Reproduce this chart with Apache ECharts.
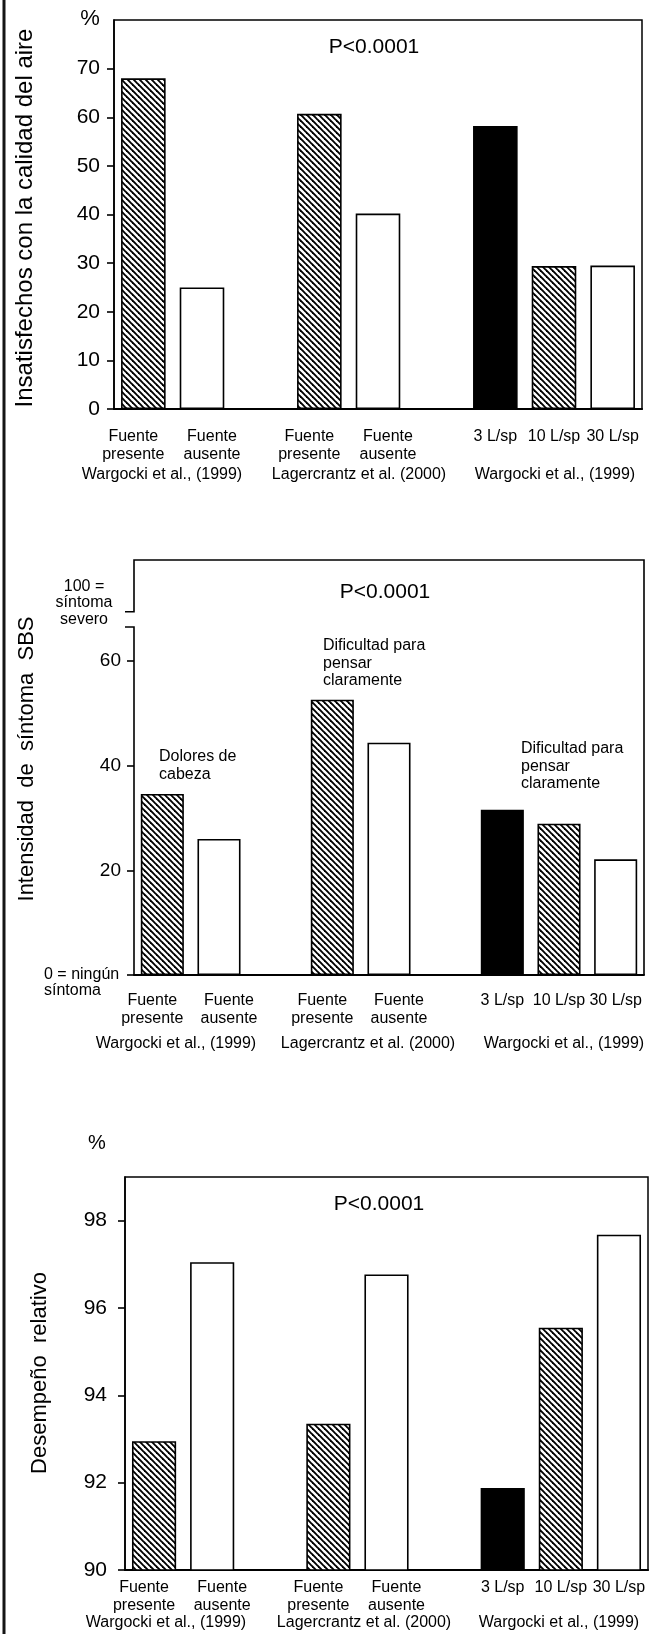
<!DOCTYPE html>
<html>
<head>
<meta charset="utf-8">
<script src="https://cdn.jsdelivr.net/npm/echarts@6/dist/echarts.min.js"></script>
<style>
html, body { margin: 0; padding: 0; background: #fff; }
#main { width: 665px; height: 1634px; }
</style>
</head>
<body>
<div id="main"></div>
<script>
// nine slots per panel, the empty ones keep the three studies apart
var slots = ['s0', 's1', 's2', 's3', 's4', 's5', 's6', 's7', 's8'];
var slotLabels = ['Fuente\npresente', 'Fuente\nausente', '', 'Fuente\npresente', 'Fuente\nausente', '', '3 L/sp', '10 L/sp', '30 L/sp'];
var fills = ['hatch', 'open', '', 'hatch', 'open', '', 'solid', 'hatch', 'open'];
var studies = ['Wargocki et al., (1999)', 'Lagercrantz et al. (2000)', 'Wargocki et al., (1999)'];

var airValues = [68, 25, '-', 60.7, 40.2, '-', 58.2, 29.4, 29.5];
var symptomValues = [34.6, 26, '-', 52.6, 44.4, '-', 31.6, 28.9, 22.1];
var performanceValues = [92.95, 97.05, '-', 93.35, 96.77, '-', 91.88, 95.55, 97.68];

var airTicks = [0, 10, 20, 30, 40, 50, 60, 70];
var symptomTicks = [20, 40, 60];
var performanceTicks = [90, 92, 94, 96, 98];
var symptomNotes = ['Dolores de\ncabeza', 'Dificultad para\npensar\nclaramente', 'Dificultad para\npensar\nclaramente'];

// symptom scale: axis is cut between 66.5 and the "100" mark
var symptomCut = 66.5;
var symptomHundred = 69.4;
var symptomTop = 79.3;

var font = "'Liberation Sans', Arial, Helvetica, sans-serif";

var chartDom = document.getElementById('main');
var myChart = echarts.init(chartDom);

function makeHatch() {
    var s = 6;
    var c = document.createElement('canvas');
    c.width = s;
    c.height = s;
    var g = c.getContext('2d');
    g.fillStyle = '#fff';
    g.fillRect(0, 0, s, s);
    g.strokeStyle = '#000';
    g.lineWidth = 1.9;
    for (var k = -1; k <= 1; k++) {
        g.beginPath();
        g.moveTo(-1, -1 + k * s);
        g.lineTo(s + 1, s + 1 + k * s);
        g.stroke();
    }
    return c;
}
var hatch = { image: makeHatch(), repeat: 'repeat' };

function bars(values) {
    return values.map(function (v, i) {
        var f = fills[i];
        return {
            value: v,
            itemStyle: {
                color: f === 'solid' ? '#000' : (f === 'hatch' ? hatch : '#fff'),
                borderColor: '#000',
                borderWidth: 1.6
            }
        };
    });
}

var labelText = { fontFamily: font, fontSize: 16, lineHeight: 17.5, color: '#000' };
var richLabels = {
    l: Object.assign({ padding: [0, 20, 0, 0] }, labelText),
    r: Object.assign({ padding: [0, 0, 0, 20] }, labelText),
    c: Object.assign({}, labelText)
};

// the "presente" label leans left, the "ausente" one right, as in the print
function slotLabel(v, i) {
    var s = slotLabels[i];
    if (!s) return '';
    var key = s.indexOf('presente') >= 0 ? 'l' : (s.indexOf('ausente') >= 0 ? 'r' : 'c');
    return s.split('\n').map(function (p) { return '{' + key + '|' + p + '}'; }).join('\n');
}

function xAxisFor(idx, margin) {
    return {
        gridIndex: idx,
        type: 'category',
        data: slots,
        axisTick: { show: false },
        axisLine: { lineStyle: { color: '#000', width: 2 } },
        axisLabel: {
            interval: 0,
            margin: margin,
            color: '#000',
            fontFamily: font,
            fontSize: 16,
            lineHeight: 17.5,
            rich: richLabels,
            formatter: slotLabel
        }
    };
}

function yAxisFor(idx, min, max, interval, ticks, labels, size, margin, showLine) {
    return {
        gridIndex: idx,
        type: 'value',
        min: min,
        max: max,
        interval: interval,
        splitLine: { show: false },
        axisLine: { show: showLine, lineStyle: { color: '#000', width: 1.6 } },
        axisTick: { show: true, length: 7, customValues: ticks, lineStyle: { color: '#000', width: 1.6 } },
        axisLabel: {
            customValues: labels,
            margin: margin,
            color: '#000',
            fontFamily: font,
            fontSize: size,
            formatter: function (v) { return labels.indexOf(v) >= 0 ? String(v) : ''; }
        }
    };
}

function text(x, y, str, size, opts) {
    opts = opts || {};
    return {
        type: 'text',
        x: x,
        y: y,
        rotation: opts.rotate ? Math.PI / 2 : 0,
        style: {
            text: str,
            fill: '#000',
            fontFamily: font,
            fontSize: size,
            lineHeight: opts.lineHeight || size * 1.1,
            align: opts.align || 'center',
            verticalAlign: opts.vAlign || 'middle'
        }
    };
}

var option = {
    animation: false,
    backgroundColor: '#fff',
    grid: [
        { left: 114, top: 20, width: 528, height: 389, show: true, borderColor: '#000', borderWidth: 1.5 },
        { left: 134, top: 560, width: 510, height: 415 },
        { left: 125, top: 1177, width: 523, height: 393, show: true, borderColor: '#000', borderWidth: 1.5 }
    ],
    xAxis: [xAxisFor(0, 19), xAxisFor(1, 17), xAxisFor(2, 9)],
    yAxis: [
        yAxisFor(0, 0, 80, 10, airTicks, airTicks, 21, 14, true),
        yAxisFor(1, 0, symptomTop, 20, [0].concat(symptomTicks), symptomTicks, 19, 13, false),
        yAxisFor(2, 90, 99, 2, performanceTicks, performanceTicks, 21, 18, true)
    ],
    series: [
        { type: 'bar', xAxisIndex: 0, yAxisIndex: 0, barWidth: '76%', data: bars(airValues) },
        { type: 'bar', xAxisIndex: 1, yAxisIndex: 1, barWidth: '76%', data: bars(symptomValues) },
        { type: 'bar', xAxisIndex: 2, yAxisIndex: 2, barWidth: '76%', data: bars(performanceValues) }
    ]
};

option && myChart.setOption(option);

// frame and broken axis of the middle panel, placed from the axis scale
var yHundred = myChart.convertToPixel({ yAxisIndex: 1 }, symptomHundred);
var yCut = myChart.convertToPixel({ yAxisIndex: 1 }, symptomCut);
var yZero = myChart.convertToPixel({ yAxisIndex: 1 }, 0);
var yTop = myChart.convertToPixel({ yAxisIndex: 1 }, symptomTop);
var xl = 134, xr = 644;
var line = { stroke: '#000', lineWidth: 1.6, fill: null };

var graphics = [
    { type: 'rect', shape: { x: 2.5, y: 0, width: 3, height: 1634 }, style: { fill: '#151515' } },

    text(90, 19, '%', 22),
    text(374, 47, 'P<0.0001', 21),
    text(25, 218, 'Insatisfechos con la calidad del aire', 24, { rotate: true }),
    text(162, 475, studies[0], 16),
    text(359, 475, studies[1], 16),
    text(555, 475, studies[2], 16),

    { type: 'polyline', shape: { points: [[xl - 9, yHundred], [xl, yHundred], [xl, yTop], [xr, yTop], [xr, yZero]] }, style: line },
    { type: 'polyline', shape: { points: [[xl - 9, yCut], [xl, yCut], [xl, yZero]] }, style: line },
    text(385, 592, 'P<0.0001', 21),
    text(27, 759, 'Intensidad  de  síntoma  SBS', 22, { rotate: true }),
    text(84, yHundred - 9, '100 =\nsíntoma\nsevero', 16, { lineHeight: 16.5 }),
    text(44, yZero - 9, '0 = ningún\nsíntoma', 16, { align: 'left', vAlign: 'top', lineHeight: 16.5 }),
    text(159, 748, symptomNotes[0], 16, { align: 'left', vAlign: 'top', lineHeight: 17.5 }),
    text(323, 637, symptomNotes[1], 16, { align: 'left', vAlign: 'top', lineHeight: 17.5 }),
    text(521, 740, symptomNotes[2], 16, { align: 'left', vAlign: 'top', lineHeight: 17.5 }),
    text(176, 1044, studies[0], 16),
    text(368, 1044, studies[1], 16),
    text(564, 1044, studies[2], 16),

    text(97, 1143, '%', 20),
    text(379, 1204, 'P<0.0001', 21),
    text(40, 1373, 'Desempeño  relativo', 22, { rotate: true }),
    text(166, 1623, studies[0], 16),
    text(364, 1623, studies[1], 16),
    text(559, 1623, studies[2], 16)
];

myChart.setOption({ graphic: graphics });
</script>
</body>
</html>
